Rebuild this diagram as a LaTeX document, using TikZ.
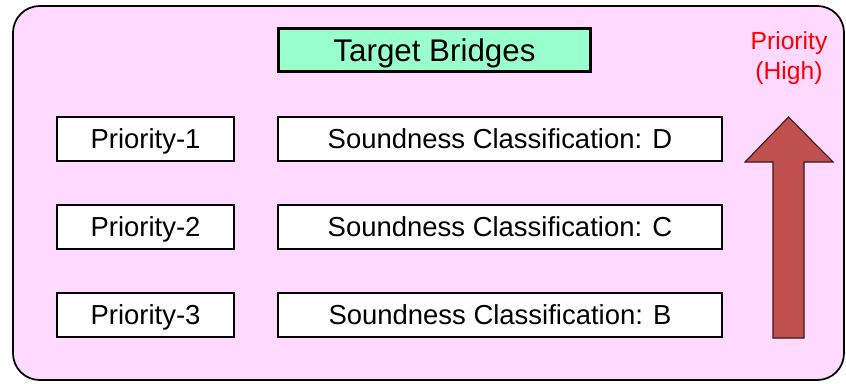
\documentclass[tikz,border=0pt]{standalone}
\usepackage{fontspec}
\setmainfont{Liberation Sans}
\usetikzlibrary{positioning}

\definecolor{panelpink}{HTML}{FFD9FF}
\definecolor{titlegreen}{HTML}{99FFCC}
\definecolor{arrowred}{HTML}{C0504D}

\tikzset{
    labelbox/.style={draw, line width=1.5pt, fill=white, minimum height=33pt,
        inner sep=0pt, text height=14.8pt, text depth=0pt,
        font=\fontsize{20.6}{24}\selectfont},
    titlebox/.style={draw, line width=2.6pt, fill=titlegreen, minimum height=32pt,
        inner sep=0pt, text height=16.8pt, text depth=0pt,
        font=\fontsize{23.5}{28}\selectfont},
}

\begin{document}
\begin{tikzpicture}[x=0.75pt, y=-0.75pt]
    \useasboundingbox (0,0) rectangle (846,383);

    % Background panel
    \draw[line width=1.3pt, fill=panelpink, rounded corners=20pt] (13,6) rectangle (844,380);

    % Title
    \node[titlebox, minimum width=234pt] (title) at (434.5,50) {Target Bridges};

    % Priority rows
    \node[labelbox, minimum width=133pt] (p1) at (145.5,139) {Priority-1};
    \node[labelbox, minimum width=133pt] (p2) at (145.5,227) {Priority-2};
    \node[labelbox, minimum width=133pt] (p3) at (145.5,315) {Priority-3};

    \node[labelbox, minimum width=333pt] (c1) at (500,139) {Soundness Classification: D};
    \node[labelbox, minimum width=333pt] (c2) at (500,227) {Soundness Classification: C};
    \node[labelbox, minimum width=333pt] (c3) at (500,315) {Soundness Classification: B};

    % Arrow pointing to higher priority
    \draw[draw=black!70!arrowred, line width=0.8pt, fill=arrowred]
        (773,338) -- (773,162) -- (745,162) -- (788.5,117) -- (833,162)
        -- (804,162) -- (804,338) -- cycle;
    \node[text=red, align=center, font=\fontsize{18.5}{23}\selectfont] (high) at (789,58) {Priority\\(High)};
\end{tikzpicture}
\end{document}
